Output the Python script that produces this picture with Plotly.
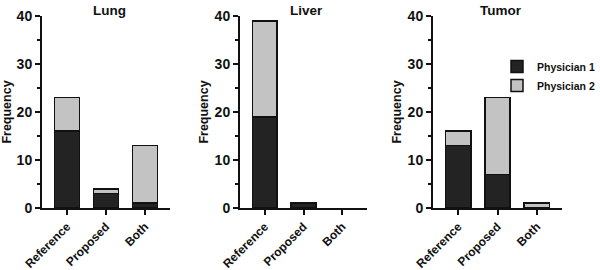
import plotly.graph_objects as go

categories = ["Reference", "Proposed", "Both"]
panels = ["Lung", "Liver", "Tumor"]
physician1 = {"Lung": [16, 3, 1], "Liver": [19, 1, 0], "Tumor": [13, 7, 0]}
physician2 = {"Lung": [7, 1, 12], "Liver": [20, 0, 0], "Tumor": [3, 16, 1]}
y_ticks = [0, 10, 20, 30, 40]

W, H = 600, 270
x_doms = [(42, 170), (240, 367), (433, 562)]
y_px = (16, 208)
FONT = "Arial, Liberation Sans, sans-serif"


def outline(vals):
    return [0 if v == 0 else 1.5 for v in vals]


fig = go.Figure()
for i, p in enumerate(panels):
    ax = "" if i == 0 else str(i + 1)
    fig.add_trace(go.Bar(x=list(range(3)), y=physician1[p], name="Physician 1",
                         marker=dict(color="#232323", line=dict(color="#111111", width=outline(physician1[p]))),
                         width=0.64, xaxis="x" + ax, yaxis="y" + ax,
                         showlegend=(i == 0), legendgroup="p1"))
    fig.add_trace(go.Bar(x=list(range(3)), y=physician2[p], name="Physician 2",
                         marker=dict(color="#c3c3c3", line=dict(color="#111111", width=outline(physician2[p]))),
                         width=0.64, xaxis="x" + ax, yaxis="y" + ax,
                         showlegend=(i == 0), legendgroup="p2"))
    xd = x_doms[i]
    fig.layout["xaxis" + ax] = dict(
        domain=[xd[0] / W, xd[1] / W], range=[-0.64, 2.64], anchor="y" + ax,
        tickvals=list(range(3)), ticktext=categories, tickangle=-45, automargin=False,
        showline=True, linecolor="#111", linewidth=2, ticks="outside",
        ticklen=5, tickwidth=2, tickcolor="#111", showgrid=False, zeroline=False,
        tickfont=dict(family=FONT, size=12, color="#111", weight="bold"),
    )
    fig.layout["yaxis" + ax] = dict(
        domain=[(H - y_px[1]) / H, (H - y_px[0]) / H], range=[0, 40], anchor="x" + ax,
        tickvals=y_ticks, showline=True, linecolor="#111", linewidth=2, automargin=False,
        ticks="outside", ticklen=5, tickwidth=2, tickcolor="#111",
        minor=dict(dtick=5, ticklen=3, tickwidth=1.5, tickcolor="#111", ticks="outside", showgrid=False),
        showgrid=False, zeroline=False,
        tickfont=dict(family=FONT, size=14, color="#111", weight="bold"),
        title=dict(text="Frequency", standoff=3,
                   font=dict(family=FONT, size=12.5, color="#111", weight="bold")),
    )
    fig.add_annotation(text="<b>%s</b>" % p, x=(xd[0] + xd[1]) / 2 / W + 0.005, y=(H - 10) / H,
                       xref="paper", yref="paper", showarrow=False,
                       xanchor="center", yanchor="middle",
                       font=dict(family=FONT, size=13.5, color="#111"))

fig.update_layout(
    width=W, height=H, barmode="stack", plot_bgcolor="white", paper_bgcolor="white",
    margin=dict(l=0, r=0, t=0, b=0),
    legend=dict(x=1, y=(H - 52) / H, xanchor="right", yanchor="top",
                font=dict(family=FONT, size=10.5, color="#111", weight="bold"),
                bgcolor="rgba(0,0,0,0)", tracegroupgap=0, itemwidth=30),
)
fig.write_html("out.html", config={"displayModeBar": False},
               post_script="document.body.style.margin='0px';")
